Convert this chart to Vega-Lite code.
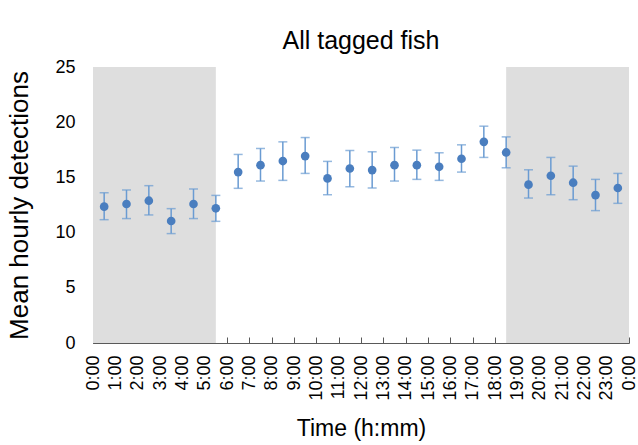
{
  "$schema": "https://vega.github.io/schema/vega-lite/v6.json",
  "width": 536,
  "height": 276,
  "autosize": "none",
  "padding": {"left": 93, "top": 67, "right": 9, "bottom": 102},
  "background": "white",
  "config": {
    "font": "Liberation Sans",
    "view": {"stroke": null},
    "axis": {
      "tickSize": -6,
      "tickColor": "#595959",
      "domainColor": "#595959",
      "grid": false,
      "labelColor": "#000000",
      "titleFontWeight": "normal",
      "titleColor": "#000000"
    },
    "axisX": {
      "labelAngle": -90,
      "labelAlign": "right",
      "labelBaseline": "middle",
      "labelFontSize": 18,
      "labelPadding": 18,
      "labelFlush": false,
      "labelOverlap": false,
      "tickCount": 40,
      "titleFontSize": 23,
      "titlePadding": 17
    },
    "axisY": {
      "labelFontSize": 18,
      "labelPadding": 24,
      "titleFontSize": 26,
      "titlePadding": 22
    }
  },
  "title": {"text": "All tagged fish", "fontSize": 25, "fontWeight": "normal", "color": "#000000", "anchor": "middle", "offset": 4},
  "datasets": {
    "shade": [
      {"start": 0, "end": 5.5},
      {"start": 18.5, "end": 24}
    ],
    "fish": [
      {"hour": 0.5, "mean": 12.35, "lo": 11.17, "hi": 13.61},
      {"hour": 1.5, "mean": 12.59, "lo": 11.27, "hi": 13.86},
      {"hour": 2.5, "mean": 12.89, "lo": 11.6, "hi": 14.25},
      {"hour": 3.5, "mean": 11.05, "lo": 9.91, "hi": 12.17},
      {"hour": 4.5, "mean": 12.59, "lo": 11.27, "hi": 13.95},
      {"hour": 5.5, "mean": 12.2, "lo": 11.02, "hi": 13.37},
      {"hour": 6.5, "mean": 15.48, "lo": 14.01, "hi": 17.08},
      {"hour": 7.5, "mean": 16.11, "lo": 14.67, "hi": 17.62},
      {"hour": 8.5, "mean": 16.48, "lo": 14.73, "hi": 18.22},
      {"hour": 9.5, "mean": 16.93, "lo": 15.36, "hi": 18.61},
      {"hour": 10.5, "mean": 14.91, "lo": 13.43, "hi": 16.45},
      {"hour": 11.5, "mean": 15.81, "lo": 14.16, "hi": 17.44},
      {"hour": 12.5, "mean": 15.66, "lo": 14.04, "hi": 17.32},
      {"hour": 13.5, "mean": 16.11, "lo": 14.67, "hi": 17.71},
      {"hour": 14.5, "mean": 16.11, "lo": 14.82, "hi": 17.47},
      {"hour": 15.5, "mean": 15.96, "lo": 14.73, "hi": 17.23},
      {"hour": 16.5, "mean": 16.69, "lo": 15.48, "hi": 17.95},
      {"hour": 17.5, "mean": 18.22, "lo": 16.81, "hi": 19.64},
      {"hour": 18.5, "mean": 17.26, "lo": 15.87, "hi": 18.67},
      {"hour": 19.5, "mean": 14.34, "lo": 13.13, "hi": 15.69},
      {"hour": 20.5, "mean": 15.15, "lo": 13.43, "hi": 16.81},
      {"hour": 21.5, "mean": 14.52, "lo": 12.98, "hi": 16.02},
      {"hour": 22.5, "mean": 13.4, "lo": 11.99, "hi": 14.82},
      {"hour": 23.5, "mean": 14.04, "lo": 12.65, "hi": 15.36}
    ]
  },
  "encoding": {
    "x": {
      "field": "hour", "type": "quantitative",
      "scale": {"domain": [0, 24], "nice": false, "zero": false},
      "axis": {
        "values": [0,1,2,3,4,5,6,7,8,9,10,11,12,13,14,15,16,17,18,19,20,21,22,23,24],
        "labelExpr": "(datum.value % 24) + ':00'",
        "labelOverlap": false,
        "tickCount": 40,
        "title": "Time (h:mm)"
      }
    }
  },
  "layer": [
    {
      "data": {"name": "shade"},
      "mark": {"type": "rect", "color": "#dedede"},
      "encoding": {
        "x": {
          "field": "start", "type": "quantitative",
          "scale": {"domain": [0, 24], "nice": false, "zero": false},
          "axis": {
            "values": [0,1,2,3,4,5,6,7,8,9,10,11,12,13,14,15,16,17,18,19,20,21,22,23,24],
            "labelExpr": "(datum.value % 24) + ':00'",
            "labelOverlap": false,
            "tickCount": 40,
            "title": "Time (h:mm)"
          }
        },
        "x2": {"field": "end"},
        "y": {"datum": 0, "type": "quantitative", "scale": {"domain": [0, 25], "nice": false}},
        "y2": {"datum": 25}
      }
    },
    {
      "data": {"name": "fish"},
      "mark": {"type": "rule", "color": "#6a9bd2", "strokeWidth": 1.5},
      "encoding": {
        "y": {"field": "lo", "type": "quantitative"},
        "y2": {"field": "hi"}
      }
    },
    {
      "data": {"name": "fish"},
      "mark": {"type": "tick", "orient": "horizontal", "color": "#6a9bd2", "size": 9, "thickness": 1.5},
      "encoding": {
        "y": {"field": "lo", "type": "quantitative"}
      }
    },
    {
      "data": {"name": "fish"},
      "mark": {"type": "tick", "orient": "horizontal", "color": "#6a9bd2", "size": 9, "thickness": 1.5},
      "encoding": {
        "y": {"field": "hi", "type": "quantitative"}
      }
    },
    {
      "data": {"name": "fish"},
      "mark": {"type": "point", "filled": true, "color": "#4a7ebf", "size": 75, "opacity": 1},
      "encoding": {
        "y": {
          "field": "mean", "type": "quantitative",
          "scale": {"domain": [0, 25], "nice": false},
          "axis": {
            "values": [0, 5, 10, 15, 20, 25],
            "title": "Mean hourly detections"
          }
        }
      }
    }
  ]
}
